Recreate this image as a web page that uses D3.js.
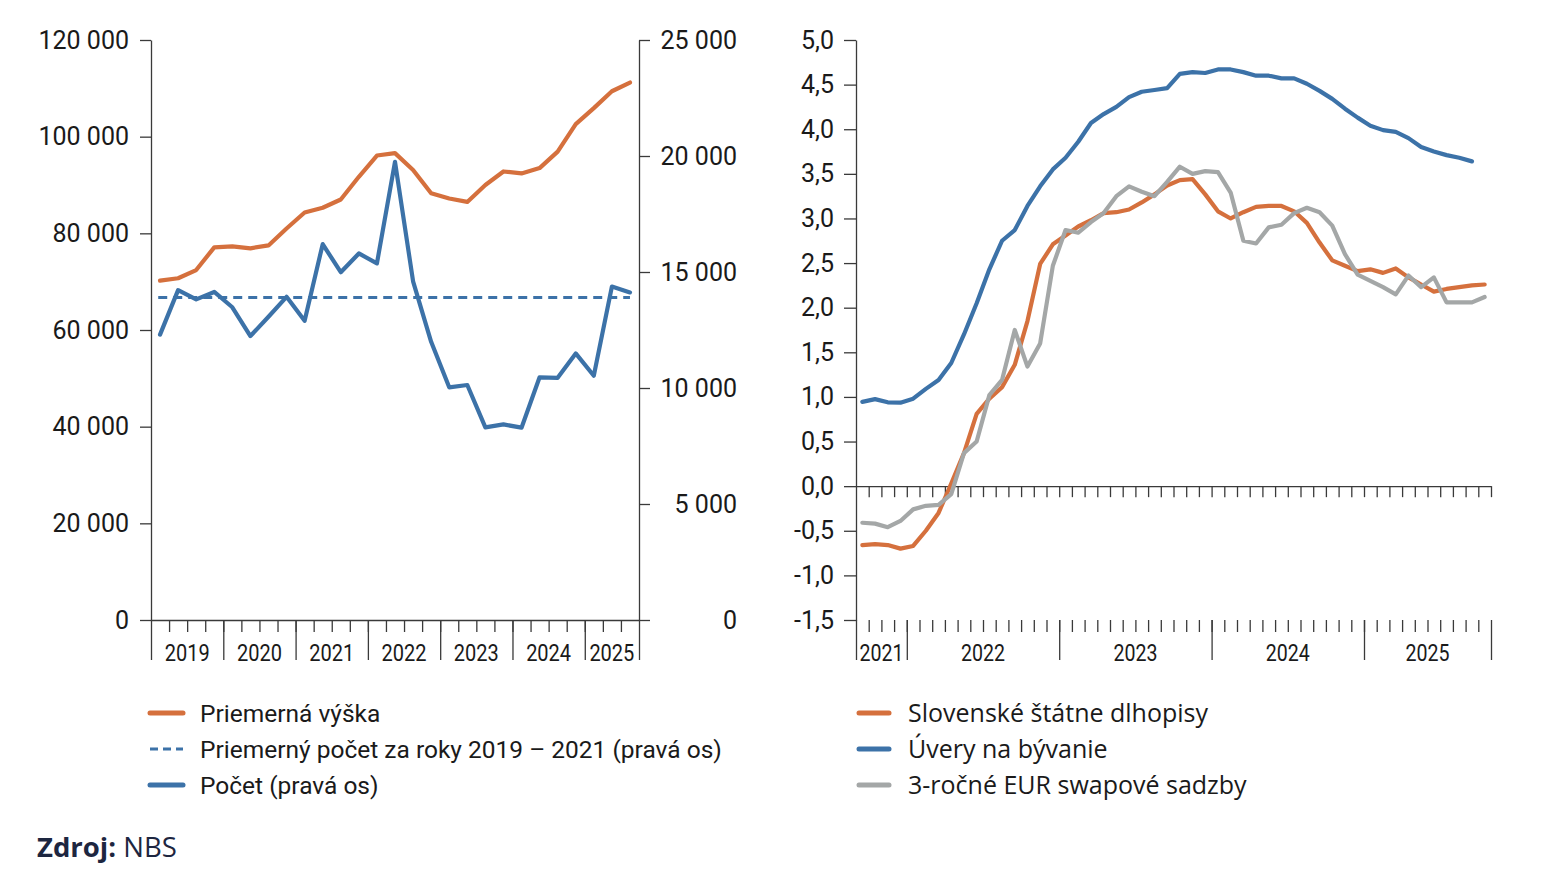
<!DOCTYPE html>
<html>
<head>
<meta charset="utf-8">
<script src="https://cdn.jsdelivr.net/npm/d3@7"></script>
<style>
  body { margin: 0; background: #fff; }
  svg { display: block; }
</style>
</head>
<body>
<div id="chart"></div>
<script>
// left panel: quarterly, 2019Q1 - 2025Q3
var quarters = ['2019Q1', '2019Q2', '2019Q3', '2019Q4', '2020Q1', '2020Q2', '2020Q3', '2020Q4',
  '2021Q1', '2021Q2', '2021Q3', '2021Q4', '2022Q1', '2022Q2', '2022Q3', '2022Q4',
  '2023Q1', '2023Q2', '2023Q3', '2023Q4', '2024Q1', '2024Q2', '2024Q3', '2024Q4',
  '2025Q1', '2025Q2', '2025Q3'];
var priemernaVyska = [70200, 70700, 72400, 77100, 77300, 76900, 77500, 81000,
  84300, 85300, 87000, 91700, 96100, 96600, 93100, 88300,
  87200, 86500, 90000, 92800, 92400, 93500, 96900, 102600,
  105900, 109400, 111200];
var pocet = [12300, 14220, 13820, 14140, 13480, 12240, 13070, 13930,
  12900, 16200, 14990, 15800, 15370, 19750, 14600, 11990,
  10030, 10130, 8300, 8430, 8290, 10460, 10440, 11490,
  10530, 14370, 14120];
var priemernyPocet = 13900;
var leftTicks = [0, 20000, 40000, 60000, 80000, 100000, 120000];
var rightTicks = [0, 5000, 10000, 15000, 20000, 25000];

// right panel: monthly, 2021-09 - 2025-10
var months = ['2021-09', '2021-10', '2021-11', '2021-12',
  '2022-01', '2022-02', '2022-03', '2022-04', '2022-05', '2022-06', '2022-07', '2022-08', '2022-09', '2022-10', '2022-11', '2022-12',
  '2023-01', '2023-02', '2023-03', '2023-04', '2023-05', '2023-06', '2023-07', '2023-08', '2023-09', '2023-10', '2023-11', '2023-12',
  '2024-01', '2024-02', '2024-03', '2024-04', '2024-05', '2024-06', '2024-07', '2024-08', '2024-09', '2024-10', '2024-11', '2024-12',
  '2025-01', '2025-02', '2025-03', '2025-04', '2025-05', '2025-06', '2025-07', '2025-08', '2025-09', '2025-10'];
var dlhopisy = [-0.66, -0.65, -0.66, -0.70, -0.67, -0.50, -0.30, 0.03, 0.37, 0.81,
  0.98, 1.11, 1.36, 1.85, 2.49, 2.71, 2.81, 2.91, 2.98, 3.06,
  3.07, 3.10, 3.18, 3.27, 3.37, 3.43, 3.44, 3.27, 3.08, 3.00,
  3.07, 3.13, 3.14, 3.14, 3.08, 2.95, 2.73, 2.53, 2.47, 2.41,
  2.43, 2.39, 2.44, 2.34, 2.26, 2.18, 2.21, 2.23, 2.25, 2.26];
var uvery = [0.945, 0.975, 0.94, 0.935, 0.98, 1.09, 1.19, 1.38, 1.70, 2.05,
  2.43, 2.75, 2.87, 3.14, 3.36, 3.55, 3.68, 3.86, 4.07, 4.17,
  4.25, 4.36, 4.42, 4.44, 4.46, 4.62, 4.64, 4.63, 4.67, 4.67,
  4.64, 4.60, 4.60, 4.57, 4.57, 4.51, 4.43, 4.34, 4.23, 4.13,
  4.04, 3.99, 3.97, 3.90, 3.80, 3.75, 3.71, 3.68, 3.64];
var swap = [-0.41, -0.42, -0.46, -0.39, -0.26, -0.22, -0.21, -0.09, 0.37, 0.50,
  1.02, 1.19, 1.75, 1.34, 1.60, 2.47, 2.87, 2.84, 2.96, 3.06,
  3.25, 3.36, 3.30, 3.25, 3.41, 3.58, 3.50, 3.53, 3.52, 3.29,
  2.75, 2.72, 2.90, 2.93, 3.06, 3.12, 3.07, 2.92, 2.60, 2.37,
  2.30, 2.23, 2.15, 2.36, 2.23, 2.34, 2.06, 2.06, 2.06, 2.12];
var rateTicks = [-1.5, -1, -0.5, 0, 0.5, 1, 1.5, 2, 2.5, 3, 3.5, 4, 4.5, 5];

var leftLegend = ['Priemerná výška', 'Priemerný počet za roky 2019 – 2021 (pravá os)', 'Počet (pravá os)'];
var rightLegend = ['Slovenské štátne dlhopisy', 'Úvery na bývanie', '3-ročné EUR swapové sadzby'];

var ORANGE = '#d5703d', BLUE = '#3c72a8', GRAY = '#a4a7a7';
var AXIS = '#3a3a3a';
var TICKFONT = 'Roboto, "Open Sans", sans-serif';

var svg = d3.select('#chart').append('svg')
  .attr('width', 1551)
  .attr('height', 895);

var loc = d3.formatLocale({decimal: ',', thousands: ' ', grouping: [3], currency: ['', ''], minus: '-'});
var fmtNum = loc.format(',');
var fmtRate = loc.format('.1f');

function styleAxis(g, size) {
  g.attr('font-family', TICKFONT).attr('font-size', size);
  g.selectAll('path, line').attr('stroke', AXIS).attr('stroke-width', 1.3);
  g.selectAll('text').attr('fill', '#1a1a1a');
}

function yearSpans(labels) {
  var spans = [];
  labels.forEach(function(l, i) {
    var y = l.slice(0, 4);
    if (!spans.length || spans[spans.length - 1].year !== y) spans.push({year: y, start: i, end: i + 1});
    else spans[spans.length - 1].end = i + 1;
  });
  return spans;
}

// ---------- left panel ----------
var xL = d3.scaleLinear().domain([0, quarters.length]).range([151, 639]);
var yL = d3.scaleLinear().domain([0, 120000]).range([620, 40]);
var yR = d3.scaleLinear().domain([0, 25000]).range([620, 40]);
var left = svg.append('g');

left.append('g')
  .attr('transform', 'translate(0,620)')
  .call(d3.axisBottom(xL).tickValues(d3.range(1, quarters.length)).tickSize(12).tickSizeOuter(0).tickFormat(''))
  .call(styleAxis, 24);

var spansL = yearSpans(quarters);
var yearBreaksL = spansL.map(function(s) { return s.start; }).concat([quarters.length]);
left.append('g')
  .attr('transform', 'translate(0,620)')
  .call(d3.axisBottom(xL).tickValues(yearBreaksL).tickSize(40).tickSizeOuter(0).tickFormat(''))
  .call(styleAxis, 24)
  .select('.domain').remove();

left.append('g')
  .attr('transform', 'translate(151,0)')
  .call(d3.axisLeft(yL).tickValues(leftTicks).tickSize(11).tickSizeOuter(0).tickPadding(11).tickFormat(fmtNum))
  .call(styleAxis, 25);

var rAxis = left.append('g')
  .attr('transform', 'translate(639,0)')
  .call(d3.axisRight(yR).tickValues(rightTicks).tickSize(11).tickSizeOuter(0).tickFormat(fmtNum))
  .call(styleAxis, 25);
// right-axis labels are right aligned in the original
rAxis.selectAll('.tick text')
  .attr('x', 98)
  .attr('text-anchor', 'end');

left.selectAll('.yearL')
  .data(spansL)
  .enter()
  .append('text')
  .attr('x', function(d) { return xL((d.start + d.end) / 2); })
  .attr('y', 661)
  .attr('text-anchor', 'middle')
  .attr('font-family', TICKFONT)
  .attr('font-size', 23)
  .attr('textLength', 45)
  .attr('lengthAdjust', 'spacingAndGlyphs')
  .attr('fill', '#1a1a1a')
  .text(function(d) { return d.year; });

var lineL = d3.line()
  .x(function(d, i) { return xL(i + 0.5); })
  .y(function(d) { return yL(d); });
var lineR = d3.line()
  .x(function(d, i) { return xL(i + 0.5); })
  .y(function(d) { return yR(d); });

left.append('line')
  .attr('x1', xL(0.4)).attr('x2', xL(quarters.length - 0.5))
  .attr('y1', yR(priemernyPocet)).attr('y2', yR(priemernyPocet))
  .attr('stroke', BLUE).attr('stroke-width', 3).attr('stroke-dasharray', '9,6');

left.append('path')
  .datum(pocet)
  .attr('d', lineR)
  .attr('fill', 'none').attr('stroke', BLUE).attr('stroke-width', 4.2)
  .attr('stroke-linejoin', 'round').attr('stroke-linecap', 'round');

left.append('path')
  .datum(priemernaVyska)
  .attr('d', lineL)
  .attr('fill', 'none').attr('stroke', ORANGE).attr('stroke-width', 4.2)
  .attr('stroke-linejoin', 'round').attr('stroke-linecap', 'round');

// ---------- right panel ----------
var xM = d3.scaleLinear().domain([0, months.length]).range([856, 1491]);
var yM = d3.scaleLinear().domain([-1.5, 5]).range([620, 40]);
var right = svg.append('g');

right.append('g')
  .attr('transform', 'translate(0,' + yM(0) + ')')
  .call(d3.axisBottom(xM).tickValues(d3.range(1, months.length + 1)).tickSize(11).tickSizeOuter(0).tickFormat(''))
  .call(styleAxis, 24);

var mb = right.append('g')
  .attr('transform', 'translate(0,620)')
  .call(d3.axisBottom(xM).tickValues(d3.range(1, months.length)).tickSize(12).tickSizeOuter(0).tickFormat(''))
  .call(styleAxis, 24);
mb.select('.domain').remove();

var spansM = yearSpans(months);
var yearBreaksM = spansM.map(function(s) { return s.start; }).concat([months.length]);
right.append('g')
  .attr('transform', 'translate(0,620)')
  .call(d3.axisBottom(xM).tickValues(yearBreaksM).tickSize(40).tickSizeOuter(0).tickFormat(''))
  .call(styleAxis, 24)
  .select('.domain').remove();

right.append('g')
  .attr('transform', 'translate(856,0)')
  .call(d3.axisLeft(yM).tickValues(rateTicks).tickSize(12).tickSizeOuter(0).tickPadding(10).tickFormat(fmtRate))
  .call(styleAxis, 25);

right.selectAll('.yearM')
  .data(spansM)
  .enter()
  .append('text')
  .attr('x', function(d) { return xM((d.start + d.end) / 2); })
  .attr('y', 661)
  .attr('text-anchor', 'middle')
  .attr('font-family', TICKFONT)
  .attr('font-size', 23)
  .attr('textLength', 44)
  .attr('lengthAdjust', 'spacingAndGlyphs')
  .attr('fill', '#1a1a1a')
  .text(function(d) { return d.year; });

var lineM = d3.line()
  .x(function(d, i) { return xM(i + 0.5); })
  .y(function(d) { return yM(d); });

[[uvery, BLUE], [dlhopisy, ORANGE], [swap, GRAY]].forEach(function(s) {
  right.append('path')
    .datum(s[0])
    .attr('d', lineM)
    .attr('fill', 'none').attr('stroke', s[1]).attr('stroke-width', 4.2)
    .attr('stroke-linejoin', 'round').attr('stroke-linecap', 'round');
});

// ---------- legends ----------
var legL = svg.append('g');
var legLStyles = [{c: ORANGE, dash: null}, {c: BLUE, dash: '8,5'}, {c: BLUE, dash: null}];
leftLegend.forEach(function(t, i) {
  var y = 713 + i * 36;
  legL.append('line')
    .attr('x1', 150).attr('x2', 183).attr('y1', y).attr('y2', y)
    .attr('stroke', legLStyles[i].c)
    .attr('stroke-width', legLStyles[i].dash ? 3 : 5)
    .attr('stroke-linecap', legLStyles[i].dash ? 'butt' : 'round')
    .attr('stroke-dasharray', legLStyles[i].dash);
  legL.append('text')
    .attr('x', 200).attr('y', y + 9)
    .attr('font-family', TICKFONT).attr('font-size', 24.5)
    .attr('fill', '#1a1a1a')
    .text(t);
});

var legR = svg.append('g');
var legRColors = [ORANGE, BLUE, GRAY];
rightLegend.forEach(function(t, i) {
  var y = 713 + i * 36;
  legR.append('line')
    .attr('x1', 859).attr('x2', 889).attr('y1', y).attr('y2', y)
    .attr('stroke', legRColors[i]).attr('stroke-width', 5).attr('stroke-linecap', 'round');
  legR.append('text')
    .attr('x', 908).attr('y', y + 9)
    .attr('font-family', '"Open Sans", Lato, sans-serif').attr('font-size', 25)
    .attr('fill', '#1a1a1a')
    .text(t);
});

var src = svg.append('text')
  .attr('x', 37).attr('y', 857)
  .attr('font-family', '"Open Sans", sans-serif').attr('font-size', 27.5)
  .attr('fill', '#1d2640');
src.append('tspan').attr('font-weight', 'bold').text('Zdroj:');
src.append('tspan').text(' NBS');
</script>
</body>
</html>
